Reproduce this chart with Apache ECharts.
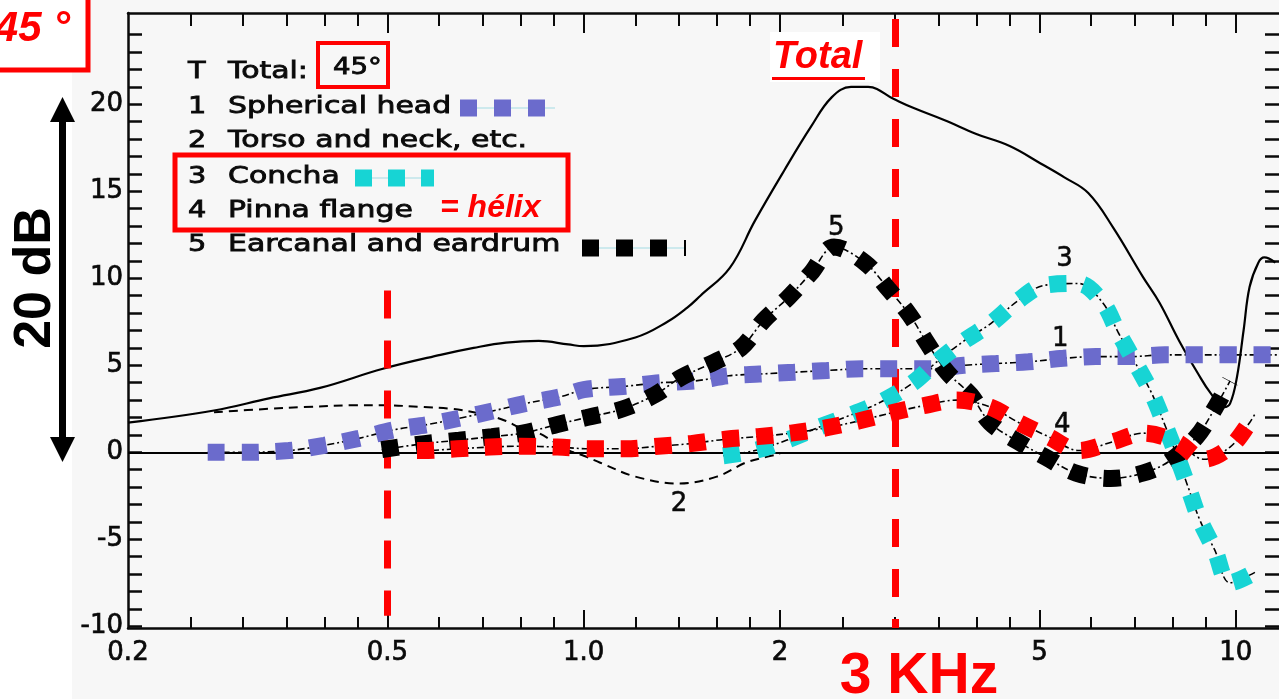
<!DOCTYPE html>
<html><head><meta charset="utf-8">
<script src="https://cdn.jsdelivr.net/npm/echarts@6/dist/echarts.min.js"></script>
<style>html,body{margin:0;padding:0;background:#fff}#c{width:1279px;height:699px}</style>
</head><body><div id="c"></div>
<script>
// ---------- data (frequency in kHz, level in dB) ----------
const totalFreq = [0.2,0.271,0.329,0.394,0.492,0.603,0.678,0.76,0.853,0.947,1.0,1.2,1.344,1.44,1.51,1.675,1.83,2.03,2.23,2.4,2.57,2.73,2.99,3.2,3.57,4.0,4.5,5.02,5.46,5.94,6.49,7.2,7.64,8.19,8.76,9.15,9.59,9.8,10.04,10.28,10.5,10.83,11.06,11.5];
const totalDb   = [1.7,2.4,3.1,3.7,4.8,5.6,6.0,6.3,6.4,6.2,6.1,6.6,7.5,8.3,9.0,10.6,13.3,16.2,18.7,20.4,21.0,21.0,20.3,19.8,19.1,18.3,17.6,16.6,15.8,14.9,12.9,10.1,8.6,6.4,4.5,3.4,2.6,2.8,4.3,7.0,9.5,10.9,11.2,10.9];

const torsoFreq = [0.271,0.329,0.372,0.447,0.492,0.569,0.626,0.678,0.718,0.76,0.8,0.853,0.9,0.95,1.0,1.06,1.2,1.4,1.6,1.77,1.89,2.0];
const torsoDb   = [2.3,2.5,2.6,2.7,2.7,2.6,2.5,2.3,2.1,1.8,1.4,1.1,0.6,0.1,-0.2,-0.6,-1.4,-1.8,-1.4,-0.6,-0.3,-0.1];

const headFreq = [0.265,0.3,0.353,0.4,0.452,0.513,0.577,0.653,0.73,0.812,0.923,1.0,1.16,1.31,1.48,1.67,1.86,2.1,2.36,2.67,3.03,3.42,3.83,4.29,4.81,5.44,6.1,6.88,7.78,8.71,9.8,11.06,11.65];
const headDb   = [0.0,0.0,0.1,0.4,0.8,1.3,1.6,2.0,2.4,2.8,3.2,3.6,3.8,4.0,4.1,4.4,4.5,4.6,4.7,4.8,4.8,4.8,5.0,5.1,5.2,5.4,5.5,5.5,5.6,5.6,5.6,5.6,5.6];

const conchaFreq = [1.637,1.83,2.05,2.28,2.55,2.86,3.2,3.48,3.83,4.21,4.63,5.09,5.74,6.25,6.6,7.0,7.43,7.78,8.14,8.47,8.81,9.28,9.8,10.7];
const conchaDb   = [-0.2,0.1,0.7,1.4,2.1,2.9,4.0,5.2,6.4,7.4,8.7,9.6,9.7,8.6,6.9,5.2,3.4,1.6,-0.3,-2.1,-3.9,-5.6,-7.5,-6.9];

const pinnaFreq = [0.555,0.566,0.639,0.718,0.8,0.911,1.022,1.157,1.3,1.46,1.65,1.85,2.08,2.35,2.64,2.99,3.34,3.73,4.2,4.65,5.16,5.75,6.47,7.22,8.11,8.94,9.8,10.5,10.7];
const pinnaDb   = [0.1,0.1,0.2,0.3,0.35,0.3,0.2,0.2,0.35,0.5,0.75,0.9,1.1,1.4,1.8,2.3,2.7,3.0,2.6,1.7,0.9,0.1,0.6,1.1,0.6,-0.4,0.3,1.7,2.2];

const canalFreq = [0.49,0.57,0.644,0.723,0.806,0.911,1.011,1.149,1.285,1.41,1.589,1.742,1.89,2.06,2.23,2.42,2.70,2.93,3.16,3.36,3.61,3.92,4.2,4.64,5.12,5.69,6.43,7.2,7.92,8.71,9.28,9.8];
const canalDb   = [0.15,0.5,0.7,0.9,1.1,1.6,2.0,2.5,3.3,4.3,5.2,6.0,7.6,8.9,10.3,11.8,10.9,9.4,7.9,6.3,4.6,3.3,1.7,0.6,-0.3,-1.2,-1.5,-1.2,-0.5,0.9,2.5,4.1];

// curve number labels: [freq, dB]
const curveLabelNames = ['5','3','1','4','2'];
const curveLabelFreq  = [2.44,5.46,5.38,5.42,1.4];
const curveLabelDb    = [12.9,11.1,6.5,1.55,-3.0];

// red reference lines
const refFreq   = [0.5, 3];
const refTopDb  = [9.3, 24.9];
const refBotDb  = [-9.4, -10.1];

// axis ticks / labels
const xMin = 0.2, xMax = 11.65;
const xLabelFreqs = [0.2,0.5,1,2,5,10];
const xMajorTicks = [0.5,1,2,5,10];
const xMinorTicks = [0.25,0.3,0.35,0.4,0.45,0.6,0.7,0.8,0.9,1.2,1.4,1.6,1.8,2.5,3,3.5,4,4.5,6,7,8,9];
const yMin = -10.1, yMax = 25.25;
const yLabelValues = [-10,-5,0,5,10,15,20];
const yTickValues = [-10,-9,-8,-7,-6,-5,-4,-3,-2,-1,0,1,2,3,4,5,6,7,8,9,10,11,12,13,14,15,16,17,18,19,20,21,22,23,24];

// ---------- build ----------
const L = Math.log10;
const pts = (fs, ds) => fs.map((f, i) => [L(f), ds[i]]);
const fmtX = v => { const f = Math.pow(10, v); if (Math.abs(f - 1) < 1e-6) return '1.0'; return f < 1 ? f.toFixed(1) : String(Math.round(f)); };
const FONT = 'DejaVu Sans';
const BLK = '#0a0a0a';

function xAx(pos, showLine, tickVals, len, labels) {
  return {
    type: 'value', position: pos, min: L(xMin), max: L(xMax),
    axisLine: { show: showLine, onZero: false, lineStyle: { color: BLK, width: 2.5 } },
    axisTick: { show: true, inside: true, length: len, customValues: tickVals.map(L), lineStyle: { color: BLK, width: 2 } },
    axisLabel: labels ? { show: true, customValues: xLabelFreqs.map(L), formatter: fmtX, fontSize: 26, color: BLK, fontFamily: FONT, margin: 12, textBorderColor: BLK, textBorderWidth: 0.7 } : { show: false },
    splitLine: { show: false }
  };
}
function yAx(pos, showLine, labels) {
  return {
    type: 'value', position: pos, min: yMin, max: yMax,
    axisLine: { show: showLine, onZero: false, lineStyle: { color: BLK, width: 2.5 } },
    axisTick: { show: true, inside: true, length: 14, customValues: yTickValues, lineStyle: { color: BLK, width: 2.5 } },
    axisLabel: labels ? { show: true, customValues: yLabelValues, fontSize: 26, color: BLK, fontFamily: FONT, margin: 5, textBorderColor: BLK, textBorderWidth: 0.7 } : { show: false },
    splitLine: { show: false }
  };
}
const thin = (name, fs, ds, type, w) => ({
  name, type: 'line', data: pts(fs, ds), smooth: 0.35, symbol: 'none', z: 3,
  lineStyle: { color: '#000', width: w || 1.6, type: type }
});
const squares = (name, fs, ds, color, z) => ({
  name, type: 'line', data: pts(fs, ds), smooth: 0.35, symbol: 'none', z: z,
  lineStyle: { color, width: 17, type: [17, 17], cap: 'butt' }
});

const series = [
  {
    name: 'Total', type: 'line', data: pts(totalFreq, totalDb), smooth: 0.4, symbol: 'none', z: 2,
    lineStyle: { color: '#000', width: 2.2 },
    markLine: {
      silent: true, symbol: ['none', 'none'], label: { show: false },
      lineStyle: { color: '#000', width: 2.2, type: 'solid' },
      data: [{ yAxis: 0 }]
    }
  },
  thin('Torso', torsoFreq, torsoDb, [9, 6], 2),
  thin('HeadLine', headFreq, headDb, [7, 3, 2, 3]),
  thin('CanalLine', canalFreq, canalDb, [7, 3, 2, 3]),
  thin('ConchaLine', conchaFreq, conchaDb, [7, 3, 2, 3]),
  thin('PinnaLine', pinnaFreq, pinnaDb, [7, 3, 2, 3]),
  {
    name: 'RefLines', type: 'line', data: [], z: 4,
    markLine: {
      silent: true, symbol: ['none', 'none'], label: { show: false },
      lineStyle: { color: '#ff0000', width: 7, type: [28, 22] },
      data: refFreq.map((f, i) => [{ coord: [L(f), refTopDb[i]] }, { coord: [L(f), refBotDb[i]] }])
    }
  },
  squares('Spherical head', headFreq, headDb, '#6b6bcc', 5),
  squares('Earcanal', canalFreq, canalDb, '#000000', 6),
  squares('Concha', conchaFreq, conchaDb, '#17d4d4', 7),
  squares('Pinna', pinnaFreq, pinnaDb, '#ff0000', 8),
  {
    name: 'CurveLabels', type: 'line', data: [], z: 9,
    markPoint: {
      symbol: 'circle', symbolSize: 1, itemStyle: { color: 'rgba(0,0,0,0)' },
      label: { show: true, position: 'inside', formatter: '{b}', fontSize: 26, color: BLK, fontFamily: FONT, textBorderColor: BLK, textBorderWidth: 0.5 },
      data: curveLabelNames.map((n, i) => ({ name: n, coord: [L(curveLabelFreq[i]), curveLabelDb[i]] }))
    }
  }
];

// ---------- annotations ----------
const RED = '#ff0000';
const legendRows = [
  ['T', 'Total:', 72], ['1', 'Spherical head', 107], ['2', 'Torso and neck, etc.', 141],
  ['3', 'Concha', 177], ['4', 'Pinna flange', 211], ['5', 'Earcanal and eardrum', 245]
];
const TXT = { fill: BLK, font: '23px "DejaVu Sans"', verticalAlign: 'middle', stroke: BLK, lineWidth: 0.8 };
const g = [];
g.push({ type: 'rect', z: 1, shape: { x: 0, y: 0, width: 72, height: 699 }, style: { fill: '#ffffff' } });
legendRows.forEach(r => {
  g.push({ type: 'text', z: 50, x: 188, y: r[2], scaleX: 1.25, style: Object.assign({ text: r[0] }, TXT) });
  g.push({ type: 'text', z: 50, x: 228, y: r[2], scaleX: 1.3, style: Object.assign({ text: r[1] }, TXT) });
});
g.push({ type: 'text', z: 50, x: 333, y: 68, scaleX: 1.2, style: Object.assign({ text: '45°' }, TXT) });
// legend sample markers
function sampleRow(y, x0, x1, color, xs, widths) {
  g.push({ type: 'line', z: 50, shape: { x1: x0, y1: y, x2: x1, y2: y }, style: { stroke: '#bfe4ea', lineWidth: 1.5 } });
  xs.forEach((x, i) => g.push({ type: 'rect', z: 51, shape: { x: x, y: y - 8.5, width: widths[i], height: 17 }, style: { fill: color } }));
}
sampleRow(108, 460, 555, '#6b6bcc', [460, 494, 528], [17, 17, 17]);
sampleRow(178, 355, 434, '#17d4d4', [355, 388, 421], [17, 17, 13]);
sampleRow(248, 582, 685, '#000000', [582, 616, 650], [17, 17, 17]);
g.push({ type: 'rect', z: 51, shape: { x: 684, y: 240, width: 2, height: 16 }, style: { fill: '#000' } });
// red boxes
g.push({ type: 'rect', z: 52, shape: { x: 318, y: 43, width: 70, height: 44 }, style: { fill: 'none', stroke: RED, lineWidth: 4 } });
g.push({ type: 'rect', z: 52, shape: { x: 175, y: 155, width: 393, height: 75 }, style: { fill: 'none', stroke: RED, lineWidth: 5 } });
g.push({ type: 'text', z: 52, x: 440, y: 208, style: { text: '= hélix', fill: RED, font: 'italic bold 32px "Liberation Sans"', verticalAlign: 'middle' } });
// top-left 45° box
g.push({ type: 'rect', z: 52, shape: { x: -6, y: -6, width: 94, height: 76 }, style: { fill: '#ffffff', stroke: RED, lineWidth: 5 } });
g.push({ type: 'text', z: 53, x: 70, y: 29, style: { text: '45 °', fill: RED, font: 'italic bold 42px "Liberation Sans"', align: 'right', verticalAlign: 'middle' } });
// 20 dB arrow
g.push({ type: 'rect', z: 52, shape: { x: 59, y: 115, width: 7, height: 330 }, style: { fill: '#000' } });
g.push({ type: 'polygon', z: 52, shape: { points: [[62.5, 97], [50, 122], [75, 122]] }, style: { fill: '#000' } });
g.push({ type: 'polygon', z: 52, shape: { points: [[62.5, 462], [50, 437], [75, 437]] }, style: { fill: '#000' } });
g.push({ type: 'text', z: 52, x: 36, y: 278, rotation: Math.PI / 2, style: { text: '20 dB', fill: '#000', font: 'bold 52px "Liberation Sans"', align: 'center', verticalAlign: 'middle' } });
// Total label
g.push({ type: 'rect', z: 52, shape: { x: 770, y: 32, width: 110, height: 50 }, style: { fill: '#ffffff' } });
g.push({ type: 'text', z: 53, x: 773, y: 58, style: { text: 'Total', fill: RED, font: 'italic bold 38px "Liberation Sans"', verticalAlign: 'middle' } });
g.push({ type: 'rect', z: 53, shape: { x: 772, y: 77, width: 93, height: 3 }, style: { fill: RED } });
// 3 KHz label
g.push({ type: 'text', z: 53, x: 919, y: 677, style: { text: '3 KHz', fill: RED, font: 'bold 57px "Liberation Sans"', align: 'center', verticalAlign: 'middle' } });

const chart = echarts.init(document.getElementById('c'), null, { renderer: 'canvas' });
chart.setOption({
  animation: false,
  backgroundColor: '#f7f7f7',
  grid: { left: 128, right: 0, top: 13, bottom: 71, containLabel: false },
  xAxis: [
    xAx('bottom', true, xMajorTicks, 18, true),
    xAx('bottom', false, xMinorTicks, 11, false),
    xAx('top', true, xMajorTicks, 20, false),
    xAx('top', false, xMinorTicks, 13, false)
  ],
  yAxis: [yAx('left', true, true), yAx('right', false, false)],
  series: series,
  graphic: { elements: g }
});
</script></body></html>
